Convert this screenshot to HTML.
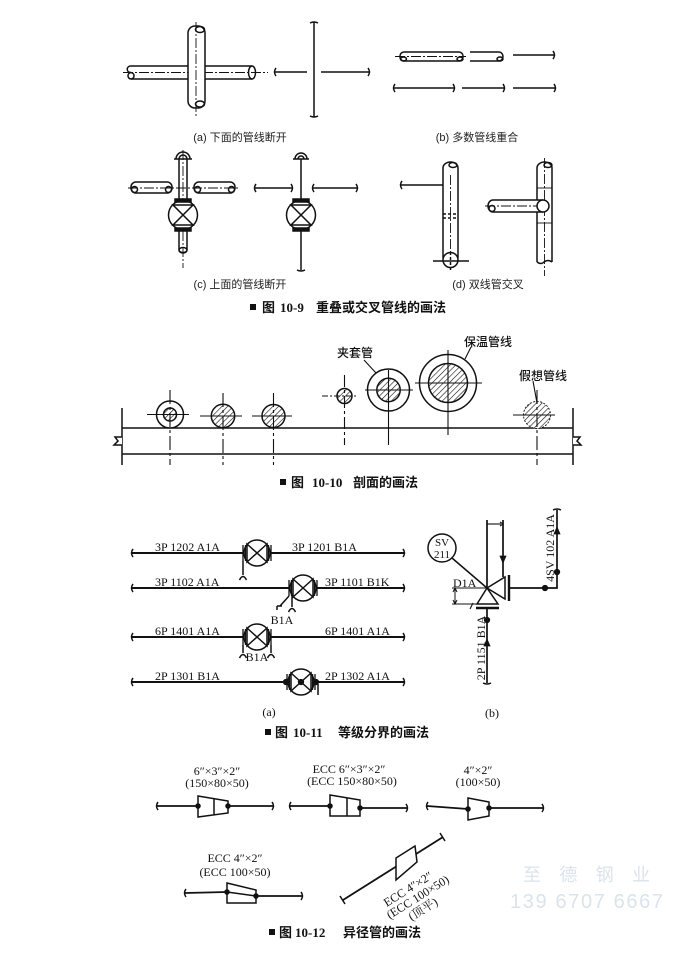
<!DOCTYPE html>
<html><head><meta charset="utf-8"><style>
html,body{margin:0;padding:0;background:#fff;}
svg{display:block;}
.s{font-family:"Liberation Serif","Noto Serif CJK SC",serif;font-size:12px;fill:#111;stroke:none;}
.c{font-family:"Liberation Sans","Noto Sans CJK SC",sans-serif;font-size:11px;fill:#222;stroke:none;}
.l{font-family:"Liberation Sans","Noto Sans CJK SC",sans-serif;font-size:12px;font-weight:500;fill:#111;stroke:none;}
.cap{font-family:"Liberation Sans","Noto Sans CJK SC",sans-serif;font-size:13px;font-weight:bold;fill:#111;stroke:none;}
.capn{font-family:"Liberation Serif",serif;font-size:13px;font-weight:bold;fill:#111;stroke:none;}
.cl{stroke-dasharray:10 2 2 2;stroke-width:0.9;}
.wm{font-family:"Liberation Sans","Noto Sans CJK SC",sans-serif;fill:#dbe3ec;stroke:none;}
</style></head><body>
<svg width="700" height="955" viewBox="0 0 700 955" xmlns="http://www.w3.org/2000/svg">
<defs>
<pattern id="h" patternUnits="userSpaceOnUse" width="4" height="4" patternTransform="rotate(45)">
<rect width="4" height="4" fill="#fff"/>
<line x1="0" y1="0" x2="0" y2="4" stroke="#111" stroke-width="1.2"/>
</pattern>
</defs>
<rect width="700" height="955" fill="#fff"/>
<g stroke="#111" fill="none" stroke-width="1.5">

<!-- ===== Fig 10-9 (a) ===== -->
<line x1="131" y1="66" x2="252" y2="66"/>
<line x1="131" y1="79" x2="252" y2="79"/>
<path d="M131,66 C126,66 126,72.5 131,72.5"/>
<ellipse cx="131" cy="75.8" rx="3" ry="3.2"/>
<ellipse cx="252" cy="72.5" rx="3.5" ry="6.5"/>
<line class="cl" x1="123" y1="72.5" x2="268" y2="72.5"/>
<rect x="188" y="26" width="17" height="82" rx="7" fill="#fff"/>
<ellipse cx="200" cy="29.5" rx="4.5" ry="3"/>
<ellipse cx="200" cy="104" rx="4.5" ry="3"/>
<line class="cl" x1="196" y1="22" x2="196" y2="117"/>
<line x1="275" y1="72" x2="307" y2="72"/>
<path d="M276,68 q-3,4 0,8"/>
<line x1="314" y1="22" x2="314" y2="117"/>
<path d="M310,23 q4,-2 8,0 M310,116 q4,2 8,0"/>
<line x1="321" y1="72" x2="369" y2="72"/>
<path d="M368,68 q3,4 0,8"/>

<!-- ===== Fig 10-9 (b) ===== -->
<line class="cl" x1="395" y1="56.5" x2="466" y2="56.5"/>
<rect x="400" y="52" width="63" height="9" rx="4"/>
<ellipse cx="403.5" cy="59" rx="3" ry="2"/>
<ellipse cx="460" cy="59" rx="3" ry="2"/>
<path d="M470,52 H499 a4,4.5 0 0 1 0,9 H470"/>
<ellipse cx="500" cy="59" rx="3" ry="2"/>
<line x1="513" y1="55" x2="554" y2="55"/>
<path d="M553,51 q3,4 0,8"/>
<line x1="394" y1="88" x2="454" y2="88"/>
<path d="M395,84 q-3,4 0,8 M453,84 q3,4 0,8"/>
<line x1="462" y1="88" x2="504" y2="88"/>
<path d="M503,84 q3,4 0,8"/>
<line x1="513" y1="88" x2="555" y2="88"/>
<path d="M554,84 q3,4 0,8"/>

<!-- ===== Fig 10-9 (c) left ===== -->
<line class="cl" x1="128" y1="188" x2="238" y2="188"/>
<rect x="131" y="182" width="41" height="11" rx="5"/>
<ellipse cx="134.5" cy="189.5" rx="3" ry="3"/>
<ellipse cx="168.5" cy="189.5" rx="3" ry="3"/>
<rect x="194" y="182" width="41" height="11" rx="5"/>
<ellipse cx="197.5" cy="189.5" rx="3" ry="3"/>
<ellipse cx="231.5" cy="189.5" rx="3" ry="3"/>
<path d="M176,159 A7,7 0 0 1 190,159 M179,159 A4,4 0 0 1 187,159"/>
<line x1="174" y1="159" x2="192" y2="159"/>
<line x1="179" y1="159" x2="179" y2="200"/>
<line x1="187" y1="159" x2="187" y2="200"/>
<line class="cl" x1="183" y1="150" x2="183" y2="200"/>
<circle cx="183" cy="215" r="14.5"/>
<path d="M173,205 L193,205 L173,225 L193,225 Z"/>
<rect x="175" y="199" width="16" height="3" fill="#111"/>
<rect x="175" y="228" width="16" height="3" fill="#111"/>
<path d="M179,231 V250 a4,3 0 0 0 8,0 V231"/>
<ellipse cx="183" cy="250" rx="4" ry="2.5"/>
<line class="cl" x1="183" y1="231" x2="183" y2="268"/>

<!-- ===== Fig 10-9 (c) right ===== -->
<path d="M295,159 A6,6 0 0 1 307,159 M298,159 A3,3 0 0 1 304,159"/>
<line x1="293" y1="159" x2="309" y2="159"/>
<line x1="301" y1="159" x2="301" y2="200"/>
<circle cx="301" cy="215" r="14.5"/>
<path d="M291,205 L311,205 L291,225 L311,225 Z"/>
<rect x="293" y="199" width="16" height="3" fill="#111"/>
<rect x="293" y="228" width="16" height="3" fill="#111"/>
<line x1="301" y1="231" x2="301" y2="270"/>
<path d="M297,270 q4,2 8,0"/>
<line x1="255" y1="188" x2="292" y2="188"/>
<path d="M256,184 q-3,4 0,8 M291,184 q3,4 0,8"/>
<line x1="313" y1="188" x2="357" y2="188"/>
<path d="M314,184 q-3,4 0,8 M356,184 q3,4 0,8"/>

<!-- ===== Fig 10-9 (d) left ===== -->
<line x1="401" y1="185" x2="443" y2="185"/>
<path d="M402,181 q-3,4 0,8"/>
<path d="M443,258 V168 a7.5,6 0 0 1 15,0 V258"/>
<ellipse cx="453" cy="165" rx="4" ry="2.5"/>
<line class="cl" x1="450.5" y1="175" x2="450.5" y2="255"/>
<line x1="443" y1="214" x2="458" y2="214" stroke-dasharray="3 2"/>
<line x1="443" y1="218" x2="458" y2="218" stroke-dasharray="3 2"/>
<circle cx="450.5" cy="260" r="7.5" fill="#fff"/>
<line x1="433" y1="261" x2="469" y2="261"/>
<line x1="450.5" y1="252" x2="450.5" y2="272" stroke-dasharray="3 2"/>

<!-- ===== Fig 10-9 (d) right ===== -->
<path d="M537,262 V168 a7.5,6 0 0 1 15,0 V262"/>
<ellipse cx="548" cy="165" rx="4" ry="2.5"/>
<path d="M537,262 q4,3 7,0 q4,-3 8,0"/>
<line class="cl" x1="544.5" y1="158" x2="544.5" y2="276"/>
<line x1="537" y1="188" x2="552" y2="188" stroke-width="0.9"/>
<line x1="537" y1="223" x2="552" y2="223" stroke-width="0.9"/>
<path d="M543,200 H493 a5,6 0 0 0 0,12 H543" fill="#fff"/>
<ellipse cx="492" cy="208.5" rx="3" ry="3"/>
<line class="cl" x1="485" y1="206" x2="540" y2="206"/>
<circle cx="543" cy="206" r="6" fill="#fff"/>

<!-- ===== Fig 10-10 ===== -->
<line x1="122" y1="428" x2="573" y2="428"/>
<line x1="122" y1="454" x2="573" y2="454"/>
<line x1="122" y1="408" x2="122" y2="465"/>
<line x1="573" y1="408" x2="573" y2="465"/>
<path d="M122,437 L115,437 L118,441 L114,445 L122,445" fill="#fff"/>
<path d="M573,437 L580,437 L577,441 L581,445 L573,445" fill="#fff"/>
<!-- c1 -->
<circle cx="170" cy="414.5" r="13.5" fill="#fff"/>
<circle cx="170" cy="414.5" r="6.5" fill="url(#h)"/>
<line x1="147" y1="414.5" x2="189" y2="414.5" stroke-width="1.1"/>
<line x1="170" y1="390" x2="170" y2="465" stroke-width="1.1" stroke-dasharray="14 3 3 3"/>
<!-- c2 -->
<circle cx="223" cy="416" r="11.7" fill="url(#h)"/>
<line x1="200" y1="416" x2="242" y2="416" stroke-width="1.1"/>
<line x1="223" y1="393" x2="223" y2="465" stroke-width="1.1" stroke-dasharray="14 3 3 3"/>
<!-- c3 -->
<circle cx="273.5" cy="416" r="11.5" fill="url(#h)"/>
<line x1="252" y1="416" x2="292" y2="416" stroke-width="1.1"/>
<line x1="273.5" y1="393" x2="273.5" y2="465" stroke-width="1.1" stroke-dasharray="14 3 3 3"/>
<!-- c4 -->
<circle cx="344.5" cy="396" r="7.5" fill="url(#h)"/>
<line x1="322" y1="396" x2="357" y2="396" stroke-width="1.1" stroke-dasharray="6 2 2 2"/>
<line x1="344.5" y1="375" x2="344.5" y2="445" stroke-width="1.1" stroke-dasharray="12 3 3 3"/>
<!-- c5 -->
<circle cx="388.5" cy="390" r="21"/>
<circle cx="388.5" cy="390" r="11.7" fill="url(#h)"/>
<line x1="365" y1="390" x2="413" y2="390" stroke-width="1.1"/>
<line x1="388.5" y1="370" x2="388.5" y2="445" stroke-width="1.1"/>
<!-- c6 -->
<circle cx="448" cy="383" r="28.5"/>
<circle cx="448" cy="383" r="19.5" fill="url(#h)"/>
<line x1="415" y1="383" x2="482" y2="383" stroke-width="1.1"/>
<line x1="448" y1="350" x2="448" y2="435" stroke-width="1.1"/>
<!-- c7 -->
<circle cx="537" cy="415" r="13.5" fill="url(#h)" stroke-width="0.9" stroke-dasharray="2 1.5"/>
<line x1="513" y1="415" x2="555" y2="415" stroke-width="1.1"/>
<line x1="537" y1="390" x2="537" y2="465" stroke-width="1.1" stroke-dasharray="14 3 3 3"/>
<!-- leaders -->
<line x1="364" y1="360" x2="376" y2="373" stroke-width="1.1"/>
<line x1="471" y1="347" x2="465" y2="359" stroke-width="1.1"/>
<line x1="533" y1="381" x2="537" y2="403" stroke-width="1.1"/>

<!-- ===== Fig 10-11 (a) ===== -->
<g stroke-width="2">
<line x1="132" y1="553" x2="243" y2="553"/><line x1="271" y1="553" x2="404" y2="553"/>
<line x1="132" y1="588" x2="289" y2="588"/><line x1="317" y1="588" x2="404" y2="588"/>
<line x1="132" y1="637" x2="243" y2="637"/><line x1="271" y1="637" x2="404" y2="637"/>
<line x1="132" y1="682" x2="287" y2="682"/><line x1="315" y1="682" x2="404" y2="682"/>
</g>
<path d="M133,549 q-3,4 0,8 M403,549 q3,4 0,8 M133,584 q-3,4 0,8 M403,584 q3,4 0,8 M133,633 q-3,4 0,8 M403,633 q3,4 0,8 M133,678 q-3,4 0,8 M403,678 q3,4 0,8"/>
<!-- V1 -->
<circle cx="257" cy="553" r="13"/>
<path d="M247,544 L267,562 L267,544 L247,562 Z"/>
<path d="M243,545 V561 M245.5,545 V561 M268.5,545 V561 M271,545 V561" stroke-width="1.3"/>
<path d="M243,561 V575 M239.5,580 Q243,573 246.5,580"/>
<!-- V2 -->
<circle cx="303" cy="588" r="13"/>
<path d="M293,579 L313,597 L313,579 L293,597 Z"/>
<path d="M289,580 V596 M291.5,580 V596 M314.5,580 V596 M317,580 V596" stroke-width="1.3"/>
<path d="M289,596 L280,606 M277,606 H282 M277,606 V610"/>
<path d="M292,596 V607 M288.5,612 Q292,605 295.5,612"/>
<!-- V3 -->
<circle cx="257" cy="637" r="13"/>
<path d="M247,628 L267,646 L267,628 L247,646 Z"/>
<path d="M243,629 V645 M245.5,629 V645 M268.5,629 V645 M271,629 V645" stroke-width="1.3"/>
<path d="M243,645 V653 M239.5,658 Q243,651 246.5,658"/>
<path d="M271,645 V653 M267.5,658 Q271,651 274.5,658"/>
<!-- V4 -->
<circle cx="301" cy="682" r="13"/>
<path d="M291,673 L311,691 L311,673 L291,691 Z"/>
<path d="M287,674 V690 M289.5,674 V690 M312.5,674 V690 M315,674 V690" stroke-width="1.3"/>
<circle cx="286" cy="682" r="2.4" fill="#111"/>
<circle cx="301" cy="682" r="2.4" fill="#111"/>
<circle cx="316" cy="682" r="2.4" fill="#111"/>
<line x1="318" y1="684" x2="318" y2="695"/>

<!-- ===== Fig 10-11 (b) ===== -->
<g stroke-width="1.7">
<line x1="487" y1="520" x2="487" y2="588"/>
<line x1="503" y1="520" x2="503" y2="577"/>
<line x1="487" y1="524" x2="501" y2="524" stroke-width="1.1"/>
<line x1="487" y1="608" x2="487" y2="683"/>
<line x1="509" y1="588" x2="545" y2="588"/>
<path d="M545,588 H557 V510"/>
</g>
<path d="M500,522 L503,524 L500,526" stroke-width="1.1"/>
<path d="M500,556 L506,556 L503,563 Z" fill="#111" stroke-width="0.8"/>
<path d="M554,534 L560,534 L557,527 Z" fill="#111" stroke-width="0.8"/>
<path d="M484,646 L490,646 L487,639 Z" fill="#111" stroke-width="0.8"/>
<circle cx="545" cy="588" r="2.4" fill="#111"/>
<circle cx="557" cy="572" r="2.4" fill="#111"/>
<circle cx="487" cy="620" r="2.4" fill="#111"/>
<path d="M553,510 q4,-2 8,0 M483,683 q4,2 8,0"/>
<circle cx="442" cy="548" r="14"/>
<line x1="452" y1="558" x2="487" y2="588"/>
<path d="M487,588 L477,604 L498,604 Z"/>
<path d="M487,588 L505,577 L505,599 Z"/>
<line x1="509" y1="575" x2="509" y2="601" stroke-width="2.4"/>
<line x1="476" y1="608" x2="499" y2="608" stroke-width="2.4"/>
<line x1="470" y1="609" x2="473" y2="603" stroke-width="1.1"/>
<line x1="452" y1="588" x2="487" y2="588" stroke-width="1"/>
<line x1="452" y1="604" x2="477" y2="604" stroke-width="1"/>
<line x1="455" y1="588" x2="455" y2="604" stroke-width="1"/>
<path d="M453,592 L455,588 L457,592 M453,600 L455,604 L457,600" stroke-width="1"/>

<!-- ===== Fig 10-12 ===== -->
<g stroke-width="1.8">
<line x1="157" y1="806" x2="198" y2="806"/><line x1="228" y1="806" x2="273" y2="806"/>
<line x1="290" y1="806" x2="330" y2="806"/><line x1="360" y1="808" x2="407" y2="808"/>
<line x1="427" y1="806" x2="468" y2="809"/><line x1="489" y1="808" x2="543" y2="808"/>
<line x1="185" y1="893" x2="227" y2="892"/><line x1="256" y1="896" x2="302" y2="896"/>
<line x1="343" y1="900" x2="396" y2="866.6"/><line x1="416" y1="854" x2="443" y2="837"/>
</g>
<path d="M158,802 q-3,4 0,8 M272,802 q3,4 0,8 M291,802 q-3,4 0,8 M406,804 q3,4 0,8 M428,802 q-3,4 0,8 M542,804 q3,4 0,8 M186,889 q-3,4 0,8 M301,892 q3,4 0,8"/>
<path d="M340,896 l5,8 M440,833 l5,8"/>
<path d="M198,796 L228,801 L228,813 L198,817 Z"/>
<line x1="214" y1="798.7" x2="214" y2="814.9"/>
<path d="M330,795 L360,800 L360,816 L330,816 Z"/>
<line x1="347" y1="797.8" x2="347" y2="816"/>
<path d="M468,798 L489,802 L489,816 L468,820 Z"/>
<path d="M227,883 L256,890 L256,903 L227,903 Z"/>
<line x1="227" y1="892" x2="256" y2="896"/>
<path d="M396,858 L415,846 L417,862 L396,880 Z" fill="#fff"/>
<circle cx="198" cy="806" r="2" fill="#111"/><circle cx="228" cy="806" r="2" fill="#111"/>
<circle cx="330" cy="806" r="2" fill="#111"/><circle cx="360" cy="808" r="2" fill="#111"/>
<circle cx="468" cy="809" r="2" fill="#111"/><circle cx="489" cy="808" r="2" fill="#111"/>
<circle cx="227" cy="892" r="2" fill="#111"/><circle cx="256" cy="896" r="2" fill="#111"/>
</g>

<!-- ===== Text ===== -->
<text class="c" x="240" y="141" text-anchor="middle">(a) 下面的管线断开</text>
<text class="c" x="477" y="141" text-anchor="middle">(b) 多数管线重合</text>
<text class="c" x="240" y="288" text-anchor="middle">(c) 上面的管线断开</text>
<text class="c" x="488" y="288" text-anchor="middle">(d) 双线管交叉</text>

<rect x="250" y="304" width="6" height="6" fill="#111"/>
<text class="cap" x="262" y="312">图</text>
<text class="capn" x="280" y="312">10-9</text>
<text class="cap" x="316" y="312">重叠或交叉管线的画法</text>

<text class="l" x="355" y="357" text-anchor="middle">夹套管</text>
<text class="l" x="488" y="346" text-anchor="middle">保温管线</text>
<text class="l" x="543" y="380" text-anchor="middle">假想管线</text>

<rect x="280" y="479" width="6" height="6" fill="#111"/>
<text class="cap" x="291" y="487">图</text>
<text class="capn" x="312" y="487">10-10</text>
<text class="cap" x="353" y="487">剖面的画法</text>

<text class="s" x="155" y="551">3P 1202 A1A</text>
<text class="s" x="292" y="551">3P 1201 B1A</text>
<text class="s" x="155" y="586">3P 1102 A1A</text>
<text class="s" x="325" y="586">3P 1101 B1K</text>
<text class="s" x="282" y="624" text-anchor="middle">B1A</text>
<text class="s" x="155" y="635">6P 1401 A1A</text>
<text class="s" x="325" y="635">6P 1401 A1A</text>
<text class="s" x="257" y="661" text-anchor="middle">B1A</text>
<text class="s" x="155" y="680">2P 1301 B1A</text>
<text class="s" x="325" y="680">2P 1302 A1A</text>
<text class="s" x="269" y="716" text-anchor="middle">(a)</text>

<text class="s" x="442" y="546" text-anchor="middle" style="font-size:11px">SV</text>
<text class="s" x="442" y="558" text-anchor="middle" style="font-size:11px">211</text>
<text class="s" x="453" y="587">D1A</text>
<text class="s" transform="translate(554,548) rotate(-90)" text-anchor="middle">4SV 102 A1A</text>
<text class="s" transform="translate(485,648) rotate(-90)" text-anchor="middle">2P 1151 B1A</text>
<text class="s" x="492" y="717" text-anchor="middle">(b)</text>

<rect x="265" y="729" width="6" height="6" fill="#111"/>
<text class="cap" x="275" y="737">图</text>
<text class="capn" x="293" y="737">10-11</text>
<text class="cap" x="338" y="737">等级分界的画法</text>

<text class="s" x="217" y="775" text-anchor="middle">6″×3″×2″</text>
<text class="s" x="217" y="787" text-anchor="middle">(150×80×50)</text>
<text class="s" x="349" y="773" text-anchor="middle">ECC 6″×3″×2″</text>
<text class="s" x="352" y="785" text-anchor="middle">(ECC 150×80×50)</text>
<text class="s" x="478" y="774" text-anchor="middle">4″×2″</text>
<text class="s" x="478" y="786" text-anchor="middle">(100×50)</text>
<text class="s" x="235" y="862" text-anchor="middle">ECC 4″×2″</text>
<text class="s" x="235" y="876" text-anchor="middle">(ECC 100×50)</text>
<g transform="translate(408,889) rotate(-32)">
<text class="s" x="0" y="4" text-anchor="middle">ECC 4″×2″</text>
<text class="s" x="4" y="16" text-anchor="middle">(ECC 100×50)</text>
<text class="s" x="2" y="29" text-anchor="middle">(顶平)</text>
</g>

<text class="wm" x="523" y="881" font-size="18" textLength="127" lengthAdjust="spacing">至 德 钢 业</text>
<text class="wm" x="510" y="908" font-size="20" textLength="153" lengthAdjust="spacing">139 6707 6667</text>

<rect x="269" y="929" width="6" height="6" fill="#111"/>
<text class="cap" x="279" y="937">图</text>
<text class="capn" x="295" y="937">10-12</text>
<text class="cap" x="343" y="937">异径管的画法</text>
</svg>
</body></html>
